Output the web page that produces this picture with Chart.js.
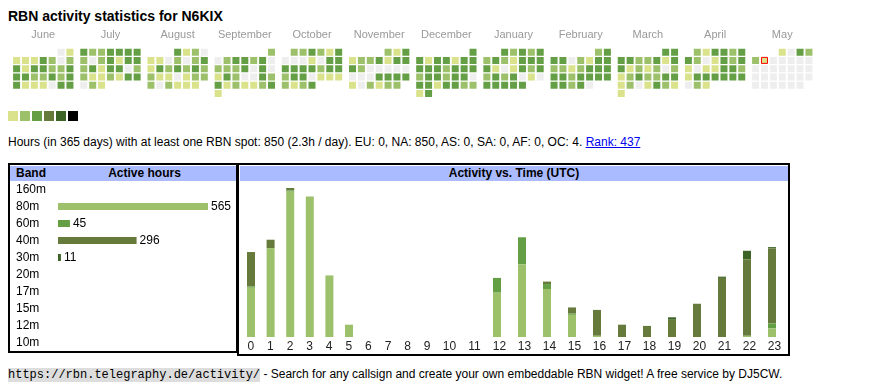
<!DOCTYPE html>
<html><head><meta charset="utf-8">
<script src="https://cdn.jsdelivr.net/npm/chart.js@4"></script>
<style>
html,body{margin:0;padding:0;background:#fff;}
body{width:870px;height:390px;position:relative;overflow:hidden;font-family:Arial,"Liberation Sans",sans-serif;color:#000;}
.abs{position:absolute;}
#title{left:8px;top:8px;font-size:14px;font-weight:bold;line-height:16px;white-space:nowrap;}
#legend span{position:absolute;top:111px;width:10px;height:10px;}
#stats{left:8px;top:136px;font-size:12px;line-height:13px;white-space:nowrap;}
#stats a{color:#00e;text-decoration:underline;}
.box{position:absolute;border:2px solid #000;box-sizing:border-box;}
#bandBox{left:8px;top:163px;width:230px;height:190px;}
#timeBox{left:237px;top:163px;width:553px;height:193px;}
.hdr{position:absolute;background:#aabbff;font-size:12px;font-weight:bold;line-height:15px;height:15px;top:166px;white-space:nowrap;}
.hdr span{position:absolute;top:0;}
canvas{position:absolute;}
#footer{left:8px;top:366px;font-size:12px;line-height:16px;white-space:nowrap;}
#footer code{font-family:"Liberation Mono",monospace;font-size:12px;background:#ddd;}
</style></head>
<body>
<div id="title" class="abs">RBN activity statistics for N6KIX</div>
<canvas id="cal" width="870" height="86" style="left:0;top:25px;"></canvas>
<div id="legend"></div>
<div id="stats" class="abs">Hours (in 365 days) with at least one RBN spot: 850 (2.3h / day). EU: 0, NA: 850, AS: 0, SA: 0, AF: 0, OC: 4. <a href="#">Rank: 437</a></div>
<div id="bandBox" class="box"></div>
<div id="timeBox" class="box"></div>
<div class="hdr" style="left:10px;width:226px;"><span style="left:6px;">Band</span><span style="left:42px;width:185px;text-align:center;">Active hours</span></div>
<div class="hdr" style="left:240px;width:548px;text-align:center;">Activity vs. Time (UTC)</div>
<canvas id="bands" width="226" height="170" style="left:10px;top:181px;"></canvas>
<canvas id="hours" width="548" height="173" style="left:240px;top:181px;"></canvas>
<div id="footer" class="abs"><code>https://rbn.telegraphy.de/activity/</code> - Search for any callsign and create your own embeddable RBN widget! A free service by DJ5CW.</div>
<script>
// ---------- DATA ----------
const MONTHS = ['June','July','August','September','October','November','December','January','February','March','April','May'];
const FIRST_YEAR = 2024, FIRST_MONTH = 5; // June 2024
// activity level per day (0 = none, 1..6 = legend colours)
const JUN = [0,1, 1,1,1,3,2,0,2, 3,1,3,3,2,2,3, 3,3,2,2,3,2,3, 3,1,1,1,0,3,3];
const JUL = [3,2,2,3,3,3,3, 2,0,2,3,1,3,3, 2,3,1,3,3,0,2, 2,1,1,2,1,3,3, 0,2,1];
const AUG = [3,1,2,0, 1,1,0,2,0,2,3, 1,3,2,3,2,3,2, 2,1,1,0,1,2,2, 2,0,2,1,1,1];
const SEP = [2, 0,2,3,3,2,3,0, 2,2,2,3,0,3,0, 1,3,2,0,0,3,2, 3,1,2,1,1,2,3, 1];
const OCT = [2,2,3,2,1,3, 0,0,0,1,0,3,3, 3,3,3,3,2,3,3, 2,3,3,0,1,1,1, 2,1,2,3];
const NOV = [2,1,3, 1,2,2,3,1,3,3, 3,2,0,0,0,0,0, 0,0,0,3,3,3,3, 1,0,2,1,2,2];
const DEC = [3, 3,1,3,3,1,3,3, 3,3,3,2,3,3,3, 2,3,3,2,3,3,0, 3,3,1,3,3,2,2, 1,3];
const JAN = [3,2,3,2,3, 2,3,2,1,3,3,3, 3,1,0,1,3,2,3, 2,3,2,3,0,1,0, 3,3,3,3,3];
const FEB = [2,3, 3,3,0,2,1,3,3, 2,2,1,2,3,3,3, 3,3,2,3,3,3,3, 3,3,2,3,0];
const MAR = [3,3, 3,3,2,2,3,1,3, 3,1,2,1,2,0,2, 1,2,3,2,2,3,3, 1,2,0,1,3,2,1, 1];
const APR = [2,1,3,3,2,3, 3,2,0,1,3,2,3, 1,0,1,1,3,3,2, 1,3,3,3,3,3,3, 0,2,1];
const MAY = [1,0,3,2, 2,1]; // up to today (May 6)
const CALENDAR = [JUN,JUL,AUG,SEP,OCT,NOV,DEC,JAN,FEB,MAR,APR,MAY];
const TODAY = {month: 11, day: 6};

const BANDS = ['160m','80m','60m','40m','30m','20m','17m','15m','12m','10m'];
const BAND_HOURS = [0,565,45,296,11,0,0,0,0,0];

const HOURS = ['0','1','2','3','4','5','6','7','8','9','10','11','12','13','14','15','16','17','18','19','20','21','22','23'];
const H_80M = [40,72,118,114,50,10,0,0,0,0,0,0,36,59,39,18,1,0,0,0,0,0,1,7];
const H_60M = [1,0,1,0,0,0,0,0,0,0,0,0,12,22,4,1,0,0,0,0,0,0,0,4];
const H_40M = [28,7,2,0,0,0,0,0,0,0,0,0,0,0,2,5,21,10,9,14,27,48,62,61];
const H_30M = [0,0,0,0,0,0,0,0,0,0,0,0,0,0,0,0,0,0,0,2,0,1,7,1];

// ---------- STYLE ----------
const LEVEL_COLORS = ['#eeeeee','#dae28b','#9dc06b','#659f45','#667b3b','#3c6427','#000000'];
const BAND_COLORS = {'80m':'#9dc06b','60m':'#659f45','40m':'#667b3b','30m':'#3c6427'};
const FONT = '"Liberation Sans", Arial, sans-serif';
Chart.defaults.font.family = FONT;
const nz = v => (v === 0 ? null : v);

// legend swatches
const leg = document.getElementById('legend');
for (let l = 1; l < LEVEL_COLORS.length; l++) {
  const s = document.createElement('span');
  s.style.left = (8 + 12 * (l - 1)) + 'px';
  s.style.background = LEVEL_COLORS[l];
  leg.appendChild(s);
}

// ---------- CALENDAR ----------
const BLOCK_LEFT = 8, MONTH_PITCH = 68, CELL_PITCH = 9, CELL = 7;
const cellPts = [], cellCols = [];
let todayPt = null;
CALENDAR.forEach((arr, m) => {
  const y = FIRST_YEAR + Math.floor((FIRST_MONTH + m) / 12), mo = (FIRST_MONTH + m) % 12;
  const nd = new Date(Date.UTC(y, mo + 1, 0)).getUTCDate();
  const first = (new Date(Date.UTC(y, mo, 1)).getUTCDay() + 6) % 7;
  for (let d = 1; d <= nd; d++) {
    const idx = d - 1 + first;
    const pt = {x: BLOCK_LEFT + m * MONTH_PITCH + (idx % 7) * CELL_PITCH + CELL / 2, y: Math.floor(idx / 7)};
    cellPts.push(pt);
    cellCols.push(LEVEL_COLORS[d <= arr.length ? arr[d - 1] : 0]);
    if (m === TODAY.month && d === TODAY.day) todayPt = {x: pt.x, y: pt.y};
  }
});
new Chart(document.getElementById('cal'), {
  type: 'scatter',
  data: {datasets: [
    {data: [todayPt], pointStyle: 'rect', pointRadius: (CELL / 2 - 0.5) * Math.SQRT2, pointBackgroundColor: 'rgba(0,0,0,0)', pointBorderColor: '#ff0000', pointBorderWidth: 1},
    {data: cellPts, pointStyle: 'rect', pointRadius: CELL / 2 * Math.SQRT2, pointBackgroundColor: cellCols, pointBorderWidth: 0}
  ]},
  options: {
    responsive: false, animation: false, events: [],
    layout: {padding: 0},
    plugins: {legend: {display: false}, tooltip: {enabled: false}},
    scales: {
      x: {type: 'linear', position: 'top', min: 0, max: 870, offset: false,
          grid: {display: false, drawTicks: false}, border: {display: false},
          ticks: {autoSkip: false, maxRotation: 0, padding: 6, color: '#999', font: {size: 11}, callback: (v, i) => MONTHS[i]},
          afterBuildTicks: s => { s.ticks = MONTHS.map((_, m) => ({value: BLOCK_LEFT + m * MONTH_PITCH + (7 * CELL_PITCH - 2) / 2})); },
          afterFit: s => { s.height = 23; s.paddingLeft = 0; s.paddingRight = 0; }},
      y: {type: 'linear', display: false, min: -0.5, max: 6.5, reverse: true}
    }
  }
});

// ---------- BANDS ----------
const valueLabels = {
  id: 'valueLabels',
  afterDatasetsDraw(chart) {
    const ctx = chart.ctx, meta = chart.getDatasetMeta(0), data = chart.data.datasets[0].data;
    ctx.save();
    ctx.font = '12px ' + FONT; ctx.fillStyle = '#000'; ctx.textBaseline = 'middle'; ctx.textAlign = 'left';
    meta.data.forEach((bar, i) => { if (data[i] > 0) ctx.fillText(String(data[i]), bar.x + 3, bar.y); });
    ctx.restore();
  }
};
new Chart(document.getElementById('bands'), {
  type: 'bar',
  data: {labels: BANDS, datasets: [{data: BAND_HOURS.map(nz), backgroundColor: BANDS.map(b => BAND_COLORS[b] || '#000'), barThickness: 7, borderWidth: 0, inflateAmount: 0}]},
  options: {
    indexAxis: 'y', responsive: false, animation: false, events: [],
    layout: {padding: {left: 6, right: 28, top: 0, bottom: 0}},
    plugins: {legend: {display: false}, tooltip: {enabled: false}},
    scales: {
      x: {type: 'linear', display: false, min: 0, max: Math.max(...BAND_HOURS)},
      y: {type: 'category', grid: {display: false, drawTicks: false}, border: {display: false},
          ticks: {crossAlign: 'far', padding: 0, autoSkip: false, color: '#000', font: {size: 12}},
          afterFit: s => { s.width = 42; s.paddingTop = 0; s.paddingBottom = 0; }}
    }
  },
  plugins: [valueLabels]
});

// ---------- HOURS ----------
// column layout like an auto-sized table: wider columns for two-digit labels
const W1 = 19.6, W2 = 25, TABLE_LEFT = 1, BAR_INSET = 10;
const colLeft = [], colCenter = [];
let acc = TABLE_LEFT;
HOURS.forEach(h => { const w = h.length === 1 ? W1 : W2; colLeft.push(acc); colCenter.push(acc + w / 2); acc += w; });
const barX = colLeft.map(l => l + BAR_INSET);
const series = [['80m', H_80M], ['60m', H_60M], ['40m', H_40M], ['30m', H_30M]];
const totals = HOURS.map((_, i) => series.reduce((s, [, a]) => s + a[i], 0));
new Chart(document.getElementById('hours'), {
  type: 'bar',
  data: {datasets: series.map(([b, arr]) => ({label: b, data: arr.map((v, i) => ({x: barX[i], y: nz(v)})), backgroundColor: BAND_COLORS[b], barThickness: 8, borderWidth: 0, inflateAmount: 0}))},
  options: {
    responsive: false, animation: false, events: [],
    layout: {padding: {left: 0, right: 0, top: 7, bottom: 0}},
    plugins: {legend: {display: false}, tooltip: {enabled: false}},
    scales: {
      x: {type: 'linear', stacked: true, min: 0, max: 548, offset: false,
          grid: {display: false, drawTicks: false}, border: {display: false},
          ticks: {autoSkip: false, maxRotation: 0, padding: 2, color: '#222', font: {size: 12}, callback: (v, i) => HOURS[i]},
          afterBuildTicks: s => { s.ticks = colCenter.map(v => ({value: v})); },
          afterFit: s => { s.height = 17; s.paddingLeft = 0; s.paddingRight = 0; }},
      y: {type: 'linear', stacked: true, display: false, min: 0, max: Math.max(...totals)}
    }
  }
});
</script>
</body></html>
